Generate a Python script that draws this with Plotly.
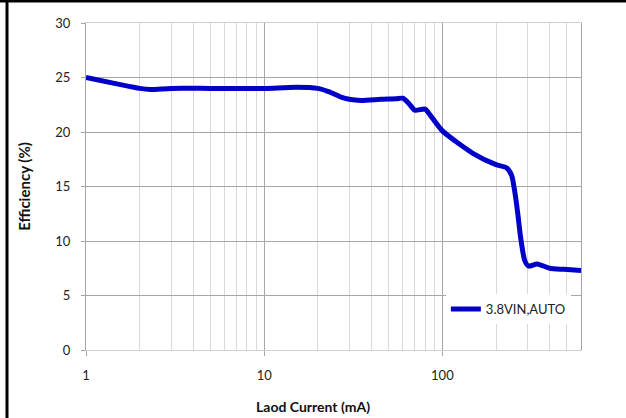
import plotly.graph_objects as go

load_current_ma = [1, 2, 2.3, 3, 5, 10, 15, 20, 23, 27, 30, 35, 45, 55, 60, 65, 70, 80, 85, 100,
                   150, 200, 230, 245, 255, 265, 275, 290, 305, 340, 400, 480, 600]
efficiency_pct = [25, 24.0, 23.9, 24.0, 24.0, 24.0, 24.1, 24.0, 23.7, 23.2, 23.0, 22.9, 23.0, 23.05,
                  23.1, 22.6, 22.0, 22.1, 21.6, 20.1, 18.0, 17.0, 16.7, 16.0, 14.5, 12.5, 10.3,
                  8.2, 7.7, 7.9, 7.5, 7.4, 7.3]
series_name = "3.8VIN,AUTO"
x_ticks = [1, 10, 100]
y_ticks = [0, 5, 10, 15, 20, 25, 30]

FONT = "Lato"

fig = go.Figure()
fig.add_trace(go.Scatter(
    x=load_current_ma, y=efficiency_pct, mode="lines", name=series_name,
    line=dict(color="#0000c8", width=5, shape="spline", smoothing=0.6),
))

fig.update_layout(
    width=626, height=418,
    margin=dict(l=86, r=45, t=23, b=68),
    paper_bgcolor="white", plot_bgcolor="white",
    font=dict(family=FONT, size=13, color="#222"),
    showlegend=True,
    legend=dict(x=0.727, y=0.171, xanchor="left", yanchor="top",
                bgcolor="white", borderwidth=0,
                font=dict(family=FONT, size=13, color="#222"),
                itemwidth=30),
    xaxis=dict(type="log", range=[0, 2.778],
               tickvals=x_ticks, ticktext=[str(v) for v in x_ticks],
               showgrid=True, gridcolor="#a6a6a6", gridwidth=1,
               ticks="outside", ticklen=5, tickcolor="#a6a6a6",
               ticklabelstandoff=8,
               showline=True, linecolor="#d0d0d0", mirror=True,
               zeroline=False,
               minor=dict(showgrid=True, gridcolor="#d9d9d9", gridwidth=1,
                          dtick="D1", ticks=""),
               tickfont=dict(family=FONT, size=13)),
    yaxis=dict(range=[0, 30], tickvals=y_ticks,
               showgrid=True, gridcolor="#a6a6a6", gridwidth=1,
               ticks="outside", ticklen=4, tickcolor="#a6a6a6",
               ticklabelstandoff=8,
               showline=True, linecolor="#a6a6a6", mirror=True,
               zeroline=False,
               title=dict(text="<b>Efficiency (%)</b>", font=dict(family=FONT, size=15, color="#111"),
                          standoff=21),
               tickfont=dict(family=FONT, size=13)),
    annotations=[dict(text="<b>Laod Current (mA)</b>", xref="paper", yref="paper",
                      x=0.459, y=-0.14, xanchor="center", yanchor="top", showarrow=False,
                      font=dict(family=FONT, size=14, color="#111"))],
    shapes=[
        dict(type="line", xref="paper", yref="paper", x0=-0.2, x1=1.2,
             y0=(350 - 1) / 327, y1=(350 - 1) / 327, line=dict(color="black", width=3)),
        dict(type="line", xref="paper", yref="paper", x0=(7 - 86) / 495, x1=(7 - 86) / 495,
             y0=-0.3, y1=1.1, line=dict(color="black", width=3)),
    ],
)

fig.write_html("out.html", config={"displayModeBar": False},
               post_script="document.body.style.margin='0';document.body.style.overflow='hidden';")
